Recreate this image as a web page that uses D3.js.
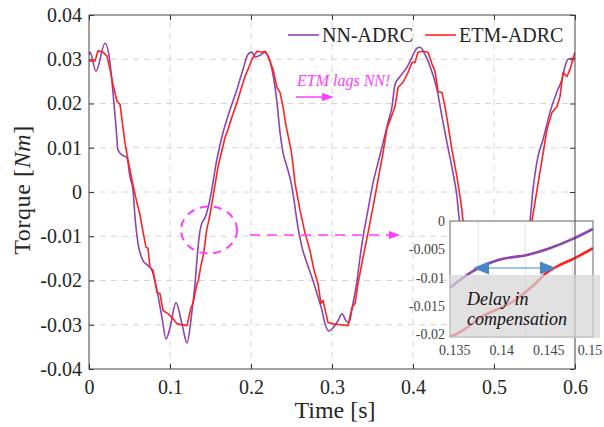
<!DOCTYPE html>
<html lang="en">
<head>
<meta charset="utf-8">
<title>Torque: NN-ADRC vs ETM-ADRC</title>
<script src="https://cdn.jsdelivr.net/npm/d3@7"></script>
<style>
  body { margin: 0; background: #fff; }
  svg text { font-family: "Liberation Serif", "DejaVu Serif", "Noto Serif", serif; fill: #262626; }
</style>
</head>
<body>
<script>
// ---- data ----
var timeNN = [0, 0.0012, 0.0086, 0.0198, 0.0259, 0.0296, 0.0333, 0.0358, 0.0407, 0.0469,
    0.0506, 0.0543, 0.0568, 0.0605, 0.0667, 0.0728, 0.0778, 0.084, 0.0901, 0.0951,
    0.1, 0.1074, 0.1148, 0.121, 0.1272, 0.1309, 0.1346, 0.1369, 0.1398, 0.1427,
    0.1451, 0.1494, 0.158, 0.1654, 0.1741, 0.1827, 0.1901, 0.1963, 0.2012, 0.2049,
    0.2111, 0.2173, 0.221, 0.2259, 0.2321, 0.2358, 0.2395, 0.2444, 0.2506, 0.2543,
    0.258, 0.263, 0.2691, 0.2753, 0.2815, 0.2877, 0.2914, 0.2963, 0.3012, 0.3074,
    0.3123, 0.3173, 0.321, 0.3259, 0.3309, 0.3346, 0.3383, 0.3444, 0.3506, 0.3568,
    0.363, 0.3691, 0.3741, 0.3778, 0.384, 0.3926, 0.3988, 0.4049, 0.4086, 0.4148,
    0.421, 0.4296, 0.4358, 0.442, 0.4494, 0.4543, 0.4568, 0.465, 0.475, 0.485,
    0.495, 0.505, 0.515, 0.525, 0.535, 0.5444, 0.5481, 0.5543, 0.5605, 0.5691,
    0.5778, 0.584, 0.5877, 0.5914, 0.5975, 0.6];
var torqueNN = [0.031, 0.0316, 0.0273, 0.0336, 0.0293, 0.0225, 0.0148, 0.0095, 0.0084, 0.0077,
    0.0034, 0.0005, -0.0057, -0.0116, -0.0155, -0.0166, -0.0177, -0.0223, -0.0284, -0.0332,
    -0.0307, -0.025, -0.0298, -0.0341, -0.0268, -0.0207, -0.0125, -0.0089, -0.0068, -0.006,
    -0.0048, -0.0016, 0.0075, 0.0134, 0.0186, 0.0232, 0.0277, 0.0311, 0.0316, 0.0305,
    0.0309, 0.0316, 0.0307, 0.0277, 0.0202, 0.0135, 0.0089, 0.0057, 0.0011, -0.0034,
    -0.008, -0.0125, -0.0161, -0.0193, -0.023, -0.0268, -0.0298, -0.0314, -0.0307, -0.0291,
    -0.0275, -0.0291, -0.0295, -0.0252, -0.02, -0.0148, -0.0102, -0.0041, 0.002, 0.0066,
    0.0111, 0.0157, 0.0193, 0.0243, 0.0261, 0.0282, 0.0305, 0.0325, 0.0327, 0.0311,
    0.0284, 0.0232, 0.017, 0.0111, 0.0043, -0.0011, -0.0057, -0.014, -0.022, -0.028,
    -0.031, -0.030, -0.025, -0.018, -0.012, -0.0064, 0.0005, 0.008, 0.0118, 0.018,
    0.0227, 0.0255, 0.0284, 0.03, 0.0302, 0.0302];

var timeETM = [0, 0.0074, 0.0111, 0.0173, 0.0222, 0.0259, 0.0296, 0.0346, 0.0383, 0.0407,
    0.0444, 0.0481, 0.0531, 0.0556, 0.0593, 0.063, 0.0667, 0.0704, 0.0728, 0.0753,
    0.079, 0.084, 0.0877, 0.0914, 0.0975, 0.1037, 0.1086, 0.121, 0.1259, 0.1284,
    0.1333, 0.135, 0.138, 0.1412, 0.1433, 0.1448, 0.1459, 0.1476, 0.1497, 0.1531,
    0.1593, 0.1642, 0.1679, 0.1716, 0.1765, 0.1827, 0.1864, 0.1926, 0.1963, 0.2012,
    0.2049, 0.2074, 0.2136, 0.2173, 0.221, 0.2272, 0.2321, 0.2358, 0.2395, 0.2432,
    0.2494, 0.2519, 0.2543, 0.2605, 0.2667, 0.2728, 0.2778, 0.2827, 0.2864, 0.2889,
    0.2926, 0.2951, 0.3012, 0.3099, 0.3198, 0.3247, 0.3284, 0.3321, 0.3383, 0.3444,
    0.3506, 0.3568, 0.363, 0.3679, 0.3753, 0.3778, 0.3815, 0.3877, 0.3938, 0.3988,
    0.4025, 0.4062, 0.4123, 0.4185, 0.4235, 0.4272, 0.4309, 0.4358, 0.4395, 0.4432,
    0.4481, 0.4543, 0.4593, 0.4617, 0.47, 0.48, 0.49, 0.5, 0.51, 0.52,
    0.53, 0.54, 0.5469, 0.5531, 0.5593, 0.5654, 0.5716, 0.5778, 0.5815, 0.5852,
    0.5901, 0.5938, 0.6];
var torqueETM = [0.0296, 0.0296, 0.0319, 0.0316, 0.0307, 0.0277, 0.0243, 0.0205, 0.0198, 0.0164,
    0.0111, 0.0073, 0.0027, 0.0005, -0.0025, -0.0052, -0.009, -0.0125, -0.0127, -0.017,
    -0.0177, -0.0227, -0.023, -0.0268, -0.0275, -0.0286, -0.0298, -0.0302, -0.0261, -0.0252,
    -0.0207, -0.0201, -0.0168, -0.0142, -0.0115, -0.0091, -0.008, -0.0067, -0.0048, -0.0011,
    0.0057, 0.0095, 0.0123, 0.0141, 0.017, 0.0202, 0.0225, 0.0261, 0.0277, 0.03,
    0.0311, 0.0318, 0.0316, 0.0318, 0.0307, 0.0277, 0.0236, 0.0225, 0.0193, 0.015,
    0.0095, 0.006, 0.002, -0.0041, -0.0093, -0.0132, -0.0177, -0.0207, -0.0252, -0.0245,
    -0.0275, -0.0295, -0.0298, -0.03, -0.0302, -0.0261, -0.0252, -0.0207, -0.0148, -0.0093,
    -0.0034, 0.0027, 0.0089, 0.0145, 0.018, 0.0193, 0.0236, 0.0248, 0.027, 0.0293,
    0.0293, 0.0316, 0.0318, 0.0316, 0.0289, 0.0273, 0.0227, 0.0225, 0.0193, 0.0152,
    0.0095, 0.0034, -0.0025, -0.0064, -0.013, -0.021, -0.027, -0.03, -0.03, -0.026,
    -0.018, -0.012, -0.0064, 0.0005, 0.0073, 0.0141, 0.018, 0.0193, 0.0216, 0.027,
    0.0261, 0.0277, 0.0316];

// zoomed window (inset)
var insetTimeNN = [0.1345, 0.1369, 0.1398, 0.1427, 0.1451, 0.1475, 0.1497];
var insetNN = [-0.0118, -0.0089, -0.0068, -0.006, -0.0048, -0.0032, -0.0014];
var insetTimeETM = [0.1345, 0.135, 0.138, 0.1412, 0.1433, 0.1448, 0.1459, 0.1476, 0.1497];
var insetETM = [-0.0203, -0.0201, -0.0168, -0.0142, -0.0115, -0.0091, -0.008, -0.0067, -0.0048];

var xTicks = [0, 0.1, 0.2, 0.3, 0.4, 0.5, 0.6];
var xTickLabels = ["0", "0.1", "0.2", "0.3", "0.4", "0.5", "0.6"];
var yTicks = [-0.04, -0.03, -0.02, -0.01, 0, 0.01, 0.02, 0.03, 0.04];
var yTickLabels = ["-0.04", "-0.03", "-0.02", "-0.01", "0", "0.01", "0.02", "0.03", "0.04"];
var insetXTicks = [0.135, 0.14, 0.145, 0.15];
var insetXTickLabels = ["0.135", "0.14", "0.145", "0.15"];
var insetYTicks = [-0.02, -0.015, -0.01, -0.005, 0];
var insetYTickLabels = ["-0.02", "-0.015", "-0.01", "-0.005", "0"];
var insetGridX = [0.1375, 0.1425, 0.1475];

var seriesNames = ["NN-ADRC", "ETM-ADRC"];
var colorNN = "#8e44ad", colorETM = "#ff2222", magenta = "#ff3cff";
var serif = "'Liberation Serif', 'DejaVu Serif', 'Noto Serif', serif";

// ---- layout ----
var width = 604, height = 427;
var x = d3.scaleLinear().domain([0, 0.6]).range([89, 575]);
var y = d3.scaleLinear().domain([-0.04, 0.04]).range([369, 15]);

var svg = d3.select("body").append("svg")
    .attr("width", width)
    .attr("height", height)
    .attr("font-family", serif);

svg.append("rect").attr("width", width).attr("height", height).attr("fill", "#fff");

svg.append("clipPath").attr("id", "plotClip")
    .append("rect")
    .attr("x", x(0)).attr("y", y(0.04))
    .attr("width", x(0.6) - x(0)).attr("height", y(-0.04) - y(0.04));

// dashed grid
var grid = svg.append("g")
    .attr("stroke", "#d6d6d6")
    .attr("stroke-width", 1)
    .attr("stroke-dasharray", "6,5");
grid.selectAll(".gx").data(xTicks.slice(1, -1)).enter().append("line")
    .attr("x1", function (d) { return x(d); }).attr("x2", function (d) { return x(d); })
    .attr("y1", y(-0.04)).attr("y2", y(0.04));
grid.selectAll(".gy").data(yTicks.slice(1, -1)).enter().append("line")
    .attr("y1", function (d) { return y(d); }).attr("y2", function (d) { return y(d); })
    .attr("x1", x(0)).attr("x2", x(0.6));

// axes, MATLAB-style inward ticks on all four sides
function styleAxis(g) {
    g.attr("font-family", serif);
    g.select(".domain").remove();
    g.selectAll(".tick line").attr("stroke", "#333");
    g.selectAll(".tick text")
        .attr("fill", "#262626")
        .style("font-family", serif)
        .style("font-size", "20px");
}
svg.append("g")
    .attr("transform", "translate(0," + y(-0.04) + ")")
    .call(d3.axisBottom(x).tickValues(xTicks)
        .tickFormat(function (d, i) { return xTickLabels[i]; })
        .tickSize(-5).tickPadding(11))
    .call(styleAxis);
svg.append("g")
    .attr("transform", "translate(" + x(0) + ",0)")
    .call(d3.axisLeft(y).tickValues(yTicks)
        .tickFormat(function (d, i) { return yTickLabels[i]; })
        .tickSize(-5).tickPadding(7))
    .call(styleAxis);
svg.append("g")
    .attr("transform", "translate(0," + y(0.04) + ")")
    .call(d3.axisTop(x).tickValues(xTicks).tickFormat("").tickSize(-5))
    .call(styleAxis);
svg.append("g")
    .attr("transform", "translate(" + x(0.6) + ",0)")
    .call(d3.axisRight(y).tickValues(yTicks).tickFormat("").tickSize(-5))
    .call(styleAxis);

// curves
var smoothLine = d3.line()
    .x(function (d) { return x(d[0]); })
    .y(function (d) { return y(d[1]); })
    .curve(d3.curveMonotoneX);
var line = d3.line()
    .x(function (d) { return x(d[0]); })
    .y(function (d) { return y(d[1]); });

var curves = svg.append("g").attr("clip-path", "url(#plotClip)");
curves.append("path")
    .datum(d3.zip(timeNN, torqueNN))
    .attr("d", smoothLine)
    .attr("fill", "none").attr("stroke", colorNN).attr("stroke-width", 1.6)
    .attr("stroke-linejoin", "round");
curves.append("path")
    .datum(d3.zip(timeETM, torqueETM))
    .attr("d", line)
    .attr("fill", "none").attr("stroke", colorETM).attr("stroke-width", 1.6)
    .attr("stroke-linejoin", "round");

// axis titles
svg.append("text")
    .attr("x", 335).attr("y", 418)
    .attr("text-anchor", "middle")
    .style("font-size", "24px")
    .text("Time [s]");
var ylab = svg.append("text")
    .attr("transform", "translate(30,190) rotate(-90)")
    .attr("text-anchor", "middle")
    .style("font-size", "24px")
    .style("letter-spacing", "0.6px");
ylab.append("tspan").text("Torque [");
ylab.append("tspan").style("font-style", "italic").text("Nm");
ylab.append("tspan").text("]");

// legend
var legend = svg.append("g");
var legendX = [288, 425];
[colorNN, colorETM].forEach(function (c, i) {
    legend.append("line")
        .attr("x1", legendX[i]).attr("x2", legendX[i] + 31)
        .attr("y1", 35).attr("y2", 35)
        .attr("stroke", c).attr("stroke-width", 1.6);
    legend.append("text")
        .attr("x", legendX[i] + 34).attr("y", 42)
        .style("font-size", "20px")
        .text(seriesNames[i]);
});

// annotation: ETM lags NN!
svg.append("text")
    .attr("x", 297).attr("y", 86)
    .style("font-size", "16px").style("font-style", "italic")
    .style("fill", magenta)
    .text("ETM lags NN!");
svg.append("line")
    .attr("x1", 296).attr("x2", 324).attr("y1", 97).attr("y2", 97)
    .attr("stroke", magenta).attr("stroke-width", 1.5);
svg.append("path")
    .attr("d", "M334,97 L322,93 L322,101 Z")
    .attr("fill", magenta);

// dashed ellipse + dashed arrow to inset
svg.append("ellipse")
    .attr("cx", 209).attr("cy", 230).attr("rx", 28).attr("ry", 23.5)
    .attr("fill", "none").attr("stroke", magenta).attr("stroke-width", 2)
    .attr("stroke-dasharray", "8,6");
svg.append("line")
    .attr("x1", 250).attr("x2", 392).attr("y1", 235).attr("y2", 235)
    .attr("stroke", magenta).attr("stroke-width", 1.5)
    .attr("stroke-dasharray", "10,7");
svg.append("path")
    .attr("d", "M400,235 L389,231 L389,239 Z")
    .attr("fill", magenta);

// ---- inset ----
var ix = d3.scaleLinear().domain([0.1345, 0.1497]).range([450, 593]);
var iy = d3.scaleLinear().domain([-0.0205, 0]).range([337, 221]);

svg.append("clipPath").attr("id", "insetClip")
    .append("rect")
    .attr("x", 450).attr("y", 221).attr("width", 143).attr("height", 116);

var inset = svg.append("g");
inset.append("rect")
    .attr("x", 450).attr("y", 221).attr("width", 143).attr("height", 116)
    .attr("fill", "#fff");
inset.selectAll(".igx").data(insetGridX).enter().append("line")
    .attr("x1", function (d) { return ix(d); }).attr("x2", function (d) { return ix(d); })
    .attr("y1", 221).attr("y2", 337)
    .attr("stroke", "#e4e4e4").attr("stroke-width", 1);

var iline = d3.line()
    .x(function (d) { return ix(d[0]); })
    .y(function (d) { return iy(d[1]); })
    .curve(d3.curveMonotoneX);
var icurves = inset.append("g").attr("clip-path", "url(#insetClip)");
icurves.append("path")
    .datum(d3.zip(insetTimeNN, insetNN))
    .attr("d", iline)
    .attr("fill", "none").attr("stroke", colorNN).attr("stroke-width", 2.6);
icurves.append("path")
    .datum(d3.zip(insetTimeETM, insetETM))
    .attr("d", iline)
    .attr("fill", "none").attr("stroke", colorETM).attr("stroke-width", 2.6);

inset.append("rect")
    .attr("x", 450).attr("y", 221).attr("width", 143).attr("height", 116)
    .attr("fill", "none").attr("stroke", "#666").attr("stroke-width", 1);

inset.selectAll(".iyl").data(insetYTicks).enter().append("text")
    .attr("x", 445).attr("y", function (d) { return iy(d) + 5; })
    .attr("text-anchor", "end")
    .style("font-size", "14px").style("fill", "#444")
    .text(function (d, i) { return insetYTickLabels[i]; });
inset.selectAll(".ixl").data(insetXTicks).enter().append("text")
    .attr("x", function (d) { return Math.min(ix(d), 590); }).attr("y", 355)
    .attr("text-anchor", "middle")
    .style("font-size", "14px").style("fill", "#444")
    .text(function (d, i) { return insetXTickLabels[i]; });

// main plot box drawn over the inset edge
svg.append("rect")
    .attr("x", x(0)).attr("y", y(0.04))
    .attr("width", x(0.6) - x(0)).attr("height", y(-0.04) - y(0.04))
    .attr("fill", "none").attr("stroke", "#444").attr("stroke-width", 1);

// translucent note box
svg.append("rect")
    .attr("x", 449).attr("y", 275).attr("width", 151).attr("height", 63)
    .attr("fill", "#d6d6d6").attr("fill-opacity", 0.72);
svg.append("text")
    .attr("x", 467).attr("y", 305)
    .style("font-size", "18px").style("font-style", "italic").style("fill", "#111")
    .text("Delay in");
svg.append("text")
    .attr("x", 467).attr("y", 325)
    .style("font-size", "18px").style("font-style", "italic").style("fill", "#111")
    .text("compensation");

// double arrow marking the delay
var blue = "#4a86c8";
svg.append("line")
    .attr("x1", 486).attr("x2", 543).attr("y1", 268).attr("y2", 268)
    .attr("stroke", "#7fb0e0").attr("stroke-width", 1.5);
svg.append("path").attr("d", "M473,268 L489,261.5 L489,274.5 Z").attr("fill", blue);
svg.append("path").attr("d", "M556,268 L540,261.5 L540,274.5 Z").attr("fill", blue);
</script>
</body>
</html>
